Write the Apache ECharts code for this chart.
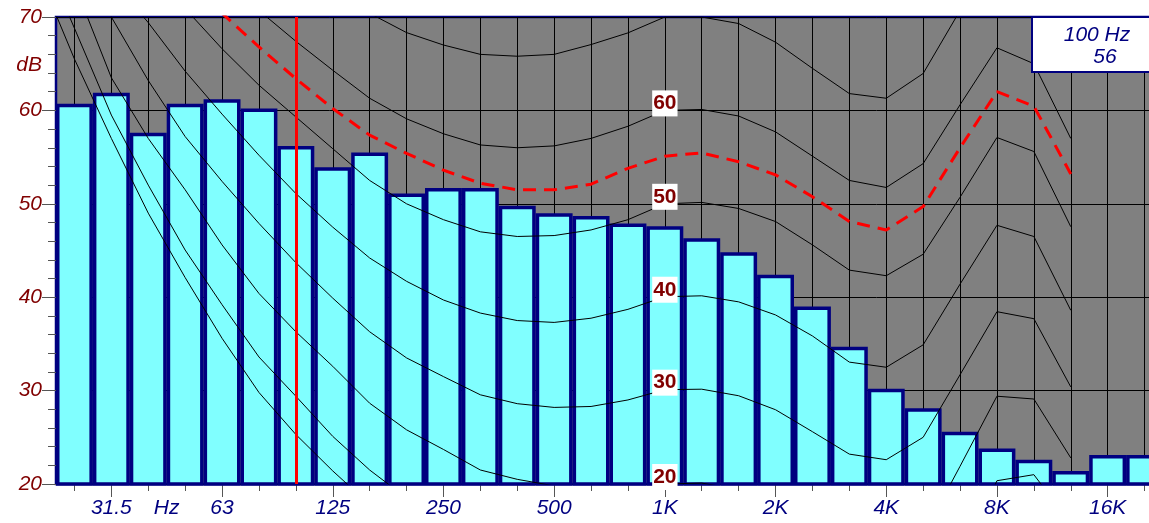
<!DOCTYPE html>
<html>
<head>
<meta charset="utf-8">
<script src="https://cdn.jsdelivr.net/npm/echarts@6/dist/echarts.min.js"></script>
<style>
html,body{margin:0;padding:0;background:#ffffff;}
#chart{width:1149px;height:523px;}
</style>
</head>
<body>
<div id="chart"></div>
<script>
// ---- data ----
const bandLabels = ['25','31.5','40','50','63','80','100','125','160','200','250','315','400','500','630','800',
  '1K','1.25K','1.6K','2K','2.5K','3.15K','4K','5K','6.3K','8K','10K','12.5K','16K','20K'];
const bandLevels = [60.7, 61.9, 57.6, 60.7, 61.2, 60.2, 56.2, 53.9, 55.5, 51.1, 51.7, 51.7, 49.8, 49.0, 48.7, 47.9,
  47.6, 46.3, 44.8, 42.4, 39.0, 34.7, 30.2, 28.1, 25.6, 23.8, 22.6, 21.4, 23.1, 23.1];

const tickedBands = ['31.5','63','125','250','500','1K','2K','4K','8K','16K'];
const unitLabel = 'Hz';
const unitAfterBand = '40';
const cursorBand = '100';

// equal-loudness contours, read at third-octave centres from 20 Hz to 12.5 kHz
const contourFreqs = ['20','25','31.5','40','50','63','80','100','125','160','200','250','315','400','500','630','800',
  '1K','1.25K','1.6K','2K','2.5K','3.15K','4K','5K','6.3K','8K','10K','12.5K'];
const contourThreshold = [75, 65.5, 57.0, 49.0, 42.1, 35.6, 29.8, 25.3, 21.4, 17.8, 14.5, 12.0, 9.5, 7.5, 6.0, 5.0, 4.3,
  4.2, 4.5, 3.5, 1.5, -1.5, -4.0, -4.5, -3.0, 3.0, 10.0, 14.0, 13.0];
const contour10 = [78, 68.8, 59.5, 52.0, 45.05, 39.2, 33.6, 29.4, 25.1, 21.5, 18.5, 16.0, 13.8, 12.2, 11.0, 10.2, 9.5,
  10.0, 10.1, 9.4, 8.0, 5.6, 3.2, 2.7, 4.5, 12.0, 20.35, 21.0, 15.8];
const contour20 = [83, 73.5, 63.5, 57.0, 51.5, 45.6, 40.4, 36.3, 32.6, 28.65, 25.8, 23.7, 21.5, 20.5, 19.8, 19.4, 19.3,
  20.0, 20.1, 19.4, 17.9, 15.6, 13.3, 12.7, 14.5, 21.9, 29.4, 29.1, 22.8];
const contour30 = [86, 78.5, 70.0, 63.2, 57.2, 52.4, 47.9, 43.7, 39.9, 36.3, 33.5, 31.5, 29.55, 28.6, 28.2, 28.3, 29.0,
  30.1, 30.15, 29.45, 27.95, 25.6, 23.2, 22.6, 25.0, 31.7, 38.45, 37.7, 30.4];
const contour40 = [92, 81.5, 74.1, 69.4, 64.2, 59.6, 55.2, 51.1, 47.5, 44.2, 41.7, 39.7, 38.3, 37.5, 37.3, 37.75, 38.7,
  40.05, 40.15, 39.5, 38.1, 35.85, 33.05, 32.5, 34.9, 41.4, 47.7, 46.5, 38.6];
const contour50 = [96, 86, 80.5, 75.5, 70.9, 66.6, 62.7, 59.3, 55.9, 52.5, 50.0, 48.3, 47.0, 46.5, 46.6, 47.2, 48.3,
  50.0, 50.15, 49.5, 48.1, 45.6, 42.9, 42.3, 44.6, 50.7, 57.1, 55.6, 47.55];
const contour60 = [100, 92, 87, 82.5, 78.5, 74.5, 70.7, 67.4, 64.3, 61.3, 59.1, 57.5, 56.3, 56.0, 56.2, 57.0, 58.3,
  60.0, 60.1, 59.4, 57.7, 55.1, 52.5, 51.75, 54.3, 60.6, 66.7, 65.0, 57.0];
const contour70 = [105, 98, 93, 89, 85, 81.5, 78, 75.5, 73, 70.4, 68.33, 67.0, 66.0, 65.8, 66.0, 67.05, 68.3,
  70.0, 70.0, 69.3, 67.3, 64.5, 61.8, 61.3, 63.95, 70.7, 76.5, 75.0, 66.5];
const loudnessContour = [100, 89, 84, 79, 74.5, 70.4, 66.8, 63.4, 60.2, 57.35, 55.4, 53.6, 52.2, 51.5, 51.5, 52.1, 53.8,
  55.1, 55.45, 54.5, 53.1, 50.75, 48.1, 47.2, 49.7, 56.0, 62.0, 60.45, 53.2];

const contourSet = [
  {name: 'threshold', values: contourThreshold},
  {name: '10', values: contour10},
  {name: '20', values: contour20},
  {name: '30', values: contour30},
  {name: '40', values: contour40},
  {name: '50', values: contour50},
  {name: '60', values: contour60},
  {name: '70', values: contour70}
];
const labeledContours = ['20','30','40','50','60'];
const contourLabelFreq = '1K';

// ---- build ----
const FONT = '"Liberation Sans", Arial, sans-serif';
const NAVY = '#000080';
const MAROON = '#800000';
const TICK = '#555555';

// 20 Hz is one third-octave below the first band (25 Hz)
const contourFirstBand = bandLabels.indexOf(contourFreqs[1]) - 1;
function contourPoints(values, labeled, name) {
  return values.map(function (v, k) {
    const pos = contourFirstBand + k + 0.5;
    const item = {value: [pos, v]};
    if (labeled && contourFreqs[k] === contourLabelFreq) {
      item.symbol = 'circle';
      item.symbolSize = 1;
      item.label = {show: true, formatter: name};
    }
    return item;
  });
}

const contourLabel = {
  show: false, position: 'inside', offset: [0, -7],
  color: MAROON, fontWeight: 'bold', fontSize: 21, fontFamily: FONT,
  backgroundColor: '#ffffff', padding: [3, 1, 3, 1], lineHeight: 20
};

const series = [{
  type: 'bar', xAxisIndex: 0, yAxisIndex: 0, data: bandLevels,
  barCategoryGap: '0%', barGap: '0%', silent: true, z: 2,
  itemStyle: {color: '#80FFFF', borderColor: NAVY, borderWidth: 3.5}
}];
contourSet.forEach(function (c) {
  const labeled = labeledContours.indexOf(c.name) >= 0;
  series.push({
    type: 'line', name: c.name, xAxisIndex: 1, yAxisIndex: 0,
    data: contourPoints(c.values, labeled, c.name),
    symbol: 'none', showSymbol: true, clip: true, silent: true, z: 3,
    lineStyle: {color: '#000000', width: 1},
    itemStyle: {color: 'rgba(0,0,0,0)'},
    label: contourLabel
  });
});
const cursorIdx = bandLabels.indexOf(cursorBand);
series.push({
  type: 'line', name: 'loudness', xAxisIndex: 1, yAxisIndex: 0,
  data: contourPoints(loudnessContour, false, ''),
  symbol: 'none', clip: true, silent: true, z: 4,
  lineStyle: {color: '#FF0000', width: 3, type: [13, 8]},
  markLine: {
    silent: true, symbol: 'none', label: {show: false},
    lineStyle: {color: '#FF0000', width: 3, type: 'solid'},
    data: [{xAxis: cursorIdx + 0.5}]
  }
});

const unitBoundary = bandLabels.indexOf(unitAfterBand) + 1;

const option = {
  animation: false,
  backgroundColor: '#ffffff',
  grid: {left: 56, top: 17, width: 1107, height: 467, show: true,
         outerBoundsMode: 'none', containLabel: false,
         backgroundColor: '#808080', borderColor: NAVY, borderWidth: 2.5},
  xAxis: [
    {
      type: 'category', data: bandLabels, boundaryGap: true, position: 'bottom',
      axisLine: {show: false}, axisLabel: {show: false},
      axisTick: {show: true, interval: 0, alignWithLabel: true, length: 7, lineStyle: {color: TICK}},
      splitLine: {show: true, interval: 0, alignWithLabel: true, lineStyle: {color: '#000000', width: 1}}
    },
    {
      type: 'value', min: 0, max: bandLabels.length, interval: 0.5, position: 'bottom',
      axisLine: {show: false}, axisTick: {show: false}, splitLine: {show: false},
      axisLabel: {
        show: true, margin: 14, color: NAVY, fontStyle: 'italic', fontSize: 21, fontFamily: FONT,
        hideOverlap: false, showMinLabel: true, showMaxLabel: true,
        formatter: function (v) {
          const half = Math.round(v * 2);
          if (half === unitBoundary * 2) return unitLabel;
          if (half % 2 === 1) {
            const b = bandLabels[(half - 1) / 2];
            if (tickedBands.indexOf(b) >= 0) return b;
          }
          return '';
        }
      }
    },
    {
      type: 'category', data: bandLabels, boundaryGap: true, position: 'bottom',
      axisLine: {show: false}, axisLabel: {show: false}, splitLine: {show: false},
      axisTick: {show: true, alignWithLabel: true, length: 13, lineStyle: {color: TICK},
        interval: function (i, v) { return tickedBands.indexOf(v) >= 0; }}
    }
  ],
  yAxis: {
    type: 'value', min: 20, max: 70, interval: 10,
    name: 'dB', nameLocation: 'end', nameGap: -48,
    nameTextStyle: {color: MAROON, fontStyle: 'italic', fontSize: 21, fontFamily: FONT,
                    align: 'right', verticalAlign: 'middle', padding: [0, 14, 0, 0]},
    axisLine: {show: false},
    axisTick: {show: true, length: 14, lineStyle: {color: TICK}},
    minorTick: {show: true, splitNumber: 5, length: 8, lineStyle: {color: TICK}},
    axisLabel: {margin: 14, color: MAROON, fontStyle: 'italic', fontSize: 21, fontFamily: FONT},
    splitLine: {show: true, lineStyle: {color: '#000000', width: 1}},
    minorSplitLine: {show: false}
  },
  graphic: [
    {type: 'rect', z: 100, shape: {x: 1032, y: 17, width: 140, height: 55},
     style: {fill: '#ffffff', stroke: NAVY, lineWidth: 2}},
    {type: 'text', z: 101, x: 1097, y: 35,
     style: {text: cursorBand + ' Hz', fill: NAVY, font: 'italic 21px ' + FONT,
             align: 'center', verticalAlign: 'middle', textAlign: 'center', textVerticalAlign: 'middle'}},
    {type: 'text', z: 101, x: 1105, y: 57,
     style: {text: String(Math.round(bandLevels[cursorIdx])), fill: NAVY, font: 'italic 21px ' + FONT,
             align: 'center', verticalAlign: 'middle', textAlign: 'center', textVerticalAlign: 'middle'}}
  ],
  series: series
};

const chart = echarts.init(document.getElementById('chart'), null, {renderer: 'canvas'});
chart.setOption(option);
</script>
</body>
</html>
